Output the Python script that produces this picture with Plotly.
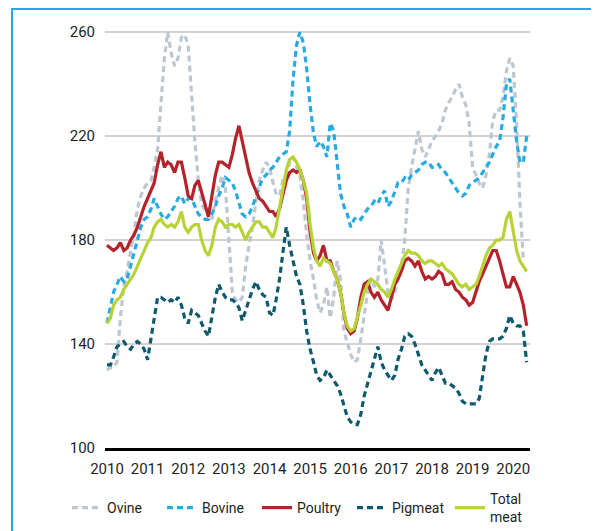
import pandas as pd
import plotly.graph_objects as go

months = pd.date_range("2010-01-01", periods=125, freq="MS")

ovine = [
    130, 131, 131, 133, 150, 162, 168, 175, 183, 192, 197, 200,
    202, 203, 208, 215, 232, 250, 260, 252, 247, 250, 258, 259,
    255, 235, 218, 203, 194, 191, 192, 188, 195, 200, 205, 200,
    178, 160, 157, 156, 158, 170, 178, 185, 195, 203, 207, 210,
    208, 202, 198, 197, 203, 205, 210, 212, 208, 205, 195, 182,
    172, 165, 157, 152, 155, 162, 150, 158, 172, 165, 145, 140,
    136, 133, 134, 142, 150, 160, 165, 162, 165, 180, 170, 160,
    157, 160, 165, 170, 180, 200, 208, 215, 222, 215, 212, 215,
    218, 220, 222, 225, 230, 233, 235, 238, 240, 235, 232, 225,
    208, 205, 202, 200, 205, 213, 226, 230, 230, 235, 245, 250,
    247, 225, 195, 172, None,
]
bovine = [
    148, 155, 160, 163, 166, 164, 165, 170, 175, 180, 185, 188,
    189, 192, 196, 193, 190, 188, 189, 191, 193, 196, 197, 194,
    196, 196, 193, 190, 189, 188, 188, 190, 193, 197, 200, 204,
    203, 202, 199, 194, 190, 189, 190, 193, 197, 200, 204, 205,
    207, 208, 210, 212, 213, 214, 222, 242, 255, 260, 256, 246,
    232, 221, 216, 218, 216, 212, 225, 222, 210, 198, 193, 190,
    185, 188, 189, 188, 190, 192, 193, 195, 194, 197, 199, 193,
    195, 199, 202, 202, 204, 203, 205, 206, 207, 209, 210, 210,
    208, 208, 209, 207, 206, 204, 202, 200, 198, 197, 198, 201,
    202, 203, 204, 206, 208, 210, 213, 216, 218, 227, 240, 242,
    230, 218, 210, 210, 220,
]
poultry = [
    178, 177, 176, 177, 179, 176, 177, 180, 182, 185, 189, 193,
    196, 199, 202, 209, 214, 208, 210, 209, 206, 210, 210, 204,
    197, 196, 201, 203, 198, 193, 189, 197, 205, 210, 210, 209,
    208, 213, 219, 224, 218, 211, 206, 202, 199, 196, 195, 193,
    191, 191, 189, 192, 198, 203, 206, 207, 206, 207, 203, 196,
    183, 175, 172, 174, 178, 172, 172, 168, 165, 160, 152, 146,
    144, 145, 150, 158, 163, 164, 160, 158, 160, 157, 155, 153,
    158, 163, 165, 168, 172, 173, 172, 170, 172, 168, 165, 166,
    165, 166, 168, 167, 163, 163, 164, 161, 160, 158, 157, 155,
    156, 160, 164, 167, 170, 173, 176, 176, 172, 167, 162, 162,
    166, 163, 160, 155, 147,
]
pigmeat = [
    132, 132, 135, 139, 140, 141, 139, 138, 140, 141, 140, 138,
    134, 142, 151, 158, 158, 157, 156, 157, 156, 158, 155, 150,
    148, 153, 152, 151, 148, 145, 143, 150, 158, 163, 160, 158,
    157, 157, 156, 154, 149, 153, 157, 161, 164, 161, 159, 158,
    152, 151, 157, 165, 175, 185, 178, 172, 166, 163, 155, 145,
    138, 133, 128, 126, 127, 130, 128, 126, 124, 121, 116, 112,
    110, 109, 109, 113, 120, 125, 130, 135, 139, 133, 130, 128,
    126, 128, 134, 138, 143, 144, 143, 140, 136, 132, 130, 128,
    126, 129, 131, 128, 125, 125, 124, 123, 121, 118, 117, 117,
    117, 117, 119, 127, 136, 141, 142, 142, 142, 143, 146, 151,
    148, 147, 147, 145, 133,
]
total_meat = [
    148, 150, 155, 157, 158, 161, 163, 165, 167, 170, 173, 176,
    179, 181, 185, 187, 188, 186, 185, 186, 185, 187, 191, 185,
    183, 185, 186, 186, 180, 176, 174, 178, 185, 188, 187, 185,
    186, 186, 185, 186, 183, 180, 183, 185, 187, 187, 185, 185,
    183, 181, 185, 192, 200, 207, 211, 212, 210, 207, 203, 198,
    186, 177, 172, 170, 173, 172, 171, 168, 165, 160, 152, 147,
    145, 146, 150, 155, 160, 163, 165, 164, 163, 161, 160, 158,
    161, 165, 168, 171, 174, 176, 175, 175, 174, 172, 171, 172,
    172, 171, 170, 171, 169, 168, 167, 165, 163, 162, 163, 161,
    162, 163, 166, 170, 174, 177, 178, 180, 180, 181, 188, 191,
    184, 176, 172, 170, 168,
]

series = [
    ("Ovine", ovine, "#BDC7D1", "6px,4px", "legend"),
    ("Bovine", bovine, "#29ABE2", "6px,4px", "legend"),
    ("Poultry", poultry, "#B4232B", "solid", "legend"),
    ("Pigmeat", pigmeat, "#0E5A6C", "6px,4px", "legend"),
    ("Total<br>meat", total_meat, "#B7D336", "solid", "legend2"),
]

y_ticks = [100, 140, 180, 220, 260]
x_ticks = [f"{y}-01-01" for y in range(2010, 2021)]
x_labels = [str(y) for y in range(2010, 2021)]

FONT = "Roboto, Liberation Sans Narrow, sans-serif"
TXT = "#231F20"

fig = go.Figure()
for name, vals, color, dash, leg in series:
    fig.add_trace(go.Scatter(
        x=months, y=vals, name=name, mode="lines",
        line=dict(color=color, width=3.2, dash=dash),
        connectgaps=False, legend=leg,
    ))

# page body adds an 8px offset; work in target-picture pixels and shift
OFF = 8
W, H = 599 - OFF, 531 - OFF
L, T = 105 - OFF, 27 - OFF
R = W - (530 - OFF)
B = H - (448 - OFF)
pw, ph = W - L - R, H - T - B

def px(x):
    return (x - OFF - L) / pw

def py(y):
    return (H - B - (y - OFF)) / ph

fig.update_layout(
    width=W, height=H,
    margin=dict(l=L, r=R, t=T, b=B, autoexpand=False),
    paper_bgcolor="white", plot_bgcolor="white",
    font=dict(family=FONT, size=15, color=TXT),
    showlegend=True,
    legend=dict(
        orientation="h", x=px(67), xanchor="left",
        y=py(508), yanchor="middle",
        entrywidth=50, entrywidthmode="pixels",
        font=dict(family=FONT, size=14, color=TXT),
        itemwidth=30, bgcolor="rgba(0,0,0,0)",
    ),
    legend2=dict(
        orientation="h", x=px(450), xanchor="left",
        y=py(508), yanchor="middle", valign="middle",
        font=dict(family=FONT, size=14, color=TXT),
        itemwidth=30, bgcolor="rgba(0,0,0,0)",
    ),
    xaxis=dict(
        type="date", range=["2009-12-14", "2020-05-31"],
        tickvals=x_ticks, ticktext=x_labels, tickangle=0,
        showgrid=False, zeroline=False, automargin=False,
        showline=True, linecolor="black", linewidth=3,
        ticks="outside", ticklen=5, tickcolor="rgba(0,0,0,0)",
        tickfont=dict(family=FONT, size=15, color=TXT),
    ),
    yaxis=dict(
        range=[100, 262], tickvals=y_ticks, automargin=False,
        showgrid=True, gridcolor="#D3D3D3", gridwidth=1.5,
        zeroline=False, showline=False,
        ticks="outside", ticklen=6, tickcolor="rgba(0,0,0,0)",
        tickfont=dict(family=FONT, size=15, color=TXT),
    ),
    shapes=[dict(
        type="rect", xref="paper", yref="paper",
        x0=px(12), x1=px(640), y0=py(560), y1=py(9),
        line=dict(color="#2CA6E0", width=2), fillcolor="rgba(0,0,0,0)",
        layer="below",
    )],
)

fig.write_html("out.html")
